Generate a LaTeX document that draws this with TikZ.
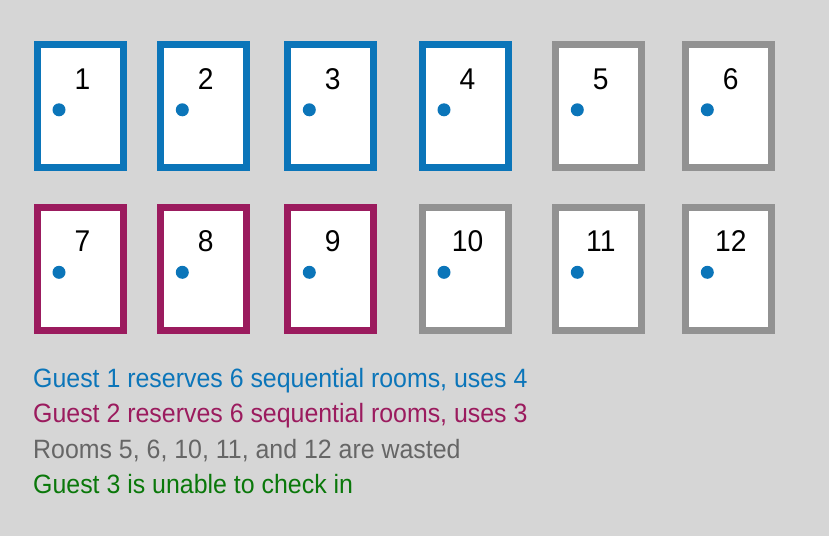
\documentclass[tikz,border=0pt]{standalone}
\usepackage{fontspec}
\setmainfont[FakeStretch=0.94]{Liberation Sans}
\definecolor{bg}{RGB}{214,214,214}
\definecolor{gblue}{RGB}{11,117,185}
\definecolor{gpurple}{RGB}{155,27,94}
\definecolor{ggray}{RGB}{146,146,146}
\definecolor{tgray}{RGB}{102,102,102}
\definecolor{tgreen}{RGB}{10,120,10}
\tikzset{
  door/.style={draw=#1, line width=7pt, fill=white, rectangle, minimum width=86pt, minimum height=123pt, inner sep=0pt, anchor=north west},
  knob/.style={circle, fill=gblue, minimum size=13pt, inner sep=0pt},
  num/.style={inner sep=0pt, font=\fontsize{30}{30}\selectfont},
  caption/.style={inner sep=0pt, anchor=base west, font=\fontsize{26.5}{30}\selectfont}
}
\begin{document}
\begin{tikzpicture}[x=1pt,y=-1pt]
\fill[bg] (0,0) rectangle (829,536);
\useasboundingbox (0,0) rectangle (829,536);
\foreach \n/\x/\y/\c in {1/34/41/gblue,2/157.3/41/gblue,3/284.3/41/gblue,4/419/41/gblue,5/552.3/41/ggray,6/682.3/41/ggray,
  7/34/203.5/gpurple,8/157.3/203.5/gpurple,9/284.3/203.5/gpurple,10/419/203.5/ggray,11/552.3/203.5/ggray,12/682.3/203.5/ggray}{
  \node[door=\c] (d\n) at (\x,\y) {};
  \node[knob] (k\n) at (\x+25,\y+68.8) {};
  \node[num] (n\n) at (\x+48.5,\y+38) {\n};
}
\node[caption, text=gblue] (t1) at (33,387) {Guest 1 reserves 6 sequential rooms, uses 4};
\node[caption, text=gpurple] (t2) at (33,422.5) {Guest 2 reserves 6 sequential rooms, uses 3};
\node[caption, text=tgray] (t3) at (33,458) {Rooms 5, 6, 10, 11, and 12 are wasted};
\node[caption, text=tgreen] (t4) at (33,493) {Guest 3 is unable to check in};
\end{tikzpicture}
\end{document}
